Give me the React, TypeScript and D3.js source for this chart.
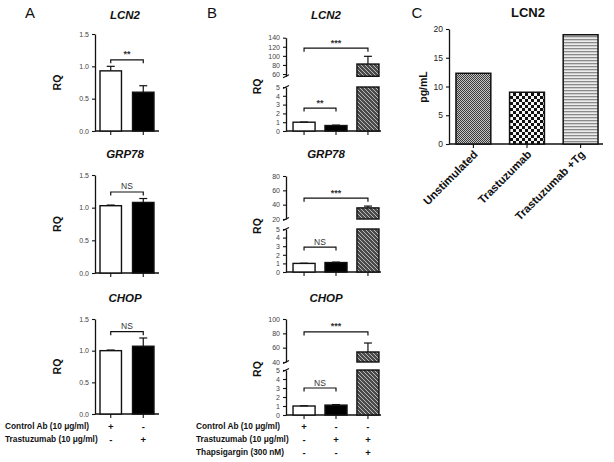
import React, { useEffect, useRef } from 'react'
import * as d3 from 'd3'

// categories
const groupsA = ['Control Ab', 'Trastuzumab']
const groupsB = ['Control Ab', 'Trastuzumab', 'Trastuzumab + Tg']
const groupsC = ['Unstimulated', 'Trastuzumab', 'Trastuzumab +Tg']
const genes = ['LCN2', 'GRP78', 'CHOP']

// panel A: RQ mean and error (SEM) per gene
const rqA = [[0.93, 0.6], [1.03, 1.08], [1.0, 1.07]]
const errA = [[0.07, 0.1], [0.01, 0.06], [0.01, 0.13]]
const sigA = ['**', 'NS', 'NS']
const sigLevelA = [1.1, 1.24, 1.3]
const ticksA = [0, 0.5, 1.0, 1.5]

// panel B: broken axis, lower 0-5 and an upper segment
const rqB = [[1.0, 0.62, 82], [1.0, 1.1, 35.5], [1.0, 1.1, 54]]
const errB = [[0.02, 0.05, 17], [0.02, 0.05, 2.5], [0.02, 0.06, 12.5]]
const lowerTicksB = [0, 1, 2, 3, 4, 5]
const upperDomainB = [[55, 140], [20, 80], [40, 100]]
const upperTicksB = [[60, 80, 100, 120, 140], [20, 40, 60, 80], [40, 60, 80, 100]]
const sigLowB = ['**', 'NS', 'NS']
const sigLowLevelB = [2.6, 2.9, 3.0]
const sigHighLevelB = [117, 49, 82]

// panel C: ELISA
const lcn2C = [12.3, 9.0, 19.0]
const ticksC = [0, 5, 10, 15, 20]

// treatment tables
const tableRowsA = ['Control Ab (10 \u03bcg/ml)', 'Trastuzumab (10 \u03bcg/ml)']
const tableSignsA = [['+', '-'], ['-', '+']]
const tableRowsB = ['Control Ab (10 \u03bcg/ml)', 'Trastuzumab (10 \u03bcg/ml)', 'Thapsigargin (300 nM)']
const tableSignsB = [['+', '-', '-'], ['-', '+', '+'], ['-', '-', '+']]

const FONT = "'Liberation Sans', Arial, sans-serif"
const INK = '#111'

function styleAxis(sel: any, size: number, color = '#444') {
  sel.select('.domain').attr('stroke', INK).attr('stroke-width', 1.3)
  sel.selectAll('.tick line').attr('stroke', INK).attr('stroke-width', 1.1)
  sel.selectAll('.tick text')
    .attr('fill', color)
    .style('font-size', `${size}px`)
    .style('font-family', FONT)
}

function bracket(g: any, x1: number, x2: number, y: number, label: string) {
  g.append('path')
    .attr('d', `M${x1},${y + 3.5}V${y}H${x2}V${y + 3.5}`)
    .attr('fill', 'none')
    .attr('stroke', INK)
    .attr('stroke-width', 1.2)
  g.append('text')
    .attr('x', (x1 + x2) / 2)
    .attr('y', y - 2.5)
    .attr('text-anchor', 'middle')
    .style('font-family', FONT)
    .style('font-size', label === 'NS' ? '8.5px' : '9px')
    .style('font-weight', label === 'NS' ? 'normal' : 'bold')
    .attr('fill', '#333')
    .text(label)
}

function errorBar(g: any, cx: number, y0: number, y1: number) {
  g.append('line').attr('x1', cx).attr('x2', cx).attr('y1', y0).attr('y2', y1)
    .attr('stroke', INK).attr('stroke-width', 1.2)
  g.append('line').attr('x1', cx - 4).attr('x2', cx + 4).attr('y1', y1).attr('y2', y1)
    .attr('stroke', INK).attr('stroke-width', 1.2)
}

function title(g: any, x: number, y: number, t: string, italic = true, size = 11.5) {
  g.append('text')
    .attr('x', x).attr('y', y)
    .attr('text-anchor', 'middle')
    .attr('dominant-baseline', 'middle')
    .style('font-family', FONT)
    .style('font-size', `${size}px`)
    .style('font-weight', 'bold')
    .style('font-style', italic ? 'italic' : 'normal')
    .attr('fill', INK)
    .text(t)
}

function yLabel(g: any, x: number, y: number, t: string) {
  g.append('text')
    .attr('transform', `translate(${x},${y}) rotate(-90)`)
    .attr('text-anchor', 'middle')
    .attr('dominant-baseline', 'middle')
    .style('font-family', FONT)
    .style('font-size', '10.5px')
    .style('font-weight', 'bold')
    .attr('fill', INK)
    .text(t)
}

function xBaseline(g: any, x0: number, x1: number, y: number, centers: number[]) {
  g.append('line').attr('x1', x0).attr('x2', x1).attr('y1', y).attr('y2', y)
    .attr('stroke', INK).attr('stroke-width', 1.3)
  centers.forEach((c) => {
    g.append('line').attr('x1', c).attr('x2', c).attr('y1', y).attr('y2', y + 4)
      .attr('stroke', INK).attr('stroke-width', 1.1)
  })
}

function table(g: any, labelX: number, rows: string[], signs: string[][], centers: number[], ys: number[]) {
  rows.forEach((r, i) => {
    g.append('text')
      .attr('x', labelX).attr('y', ys[i])
      .attr('dominant-baseline', 'middle')
      .style('font-family', FONT).style('font-size', '8.3px').style('font-weight', 'bold')
      .attr('fill', INK)
      .text(r)
    signs[i].forEach((s, j) => {
      g.append('text')
        .attr('x', centers[j]).attr('y', ys[i])
        .attr('text-anchor', 'middle')
        .attr('dominant-baseline', 'middle')
        .style('font-family', FONT).style('font-size', '9.5px').style('font-weight', 'bold')
        .attr('fill', INK)
        .text(s)
    })
  })
}

export default function App() {
  const svgRef = useRef<SVGSVGElement>(null)

  useEffect(() => {
    if (!svgRef.current) return
    document.body.style.margin = '0'
    const svg = d3.select(svgRef.current)
    svg.selectAll('*').remove()

    // patterns
    const defs = svg.append('defs')
    const hatch = defs.append('pattern').attr('id', 'hatch').attr('patternUnits', 'userSpaceOnUse')
      .attr('width', 4).attr('height', 4)
    hatch.append('rect').attr('width', 4).attr('height', 4).attr('fill', '#4a4a4a')
    hatch.append('path').attr('d', 'M-1,-1L5,5M3,-1L5,1M-1,3L1,5').attr('stroke', '#bbb').attr('stroke-width', 1)

    const fine = defs.append('pattern').attr('id', 'fine').attr('patternUnits', 'userSpaceOnUse')
      .attr('width', 2).attr('height', 2)
    fine.append('rect').attr('width', 2).attr('height', 2).attr('fill', '#c4c4c4')
    fine.append('rect').attr('width', 1).attr('height', 1).attr('fill', '#3a3a3a')
    fine.append('rect').attr('x', 1).attr('y', 1).attr('width', 1).attr('height', 1).attr('fill', '#3a3a3a')

    const coarse = defs.append('pattern').attr('id', 'coarse').attr('patternUnits', 'userSpaceOnUse')
      .attr('width', 6).attr('height', 6)
    coarse.append('rect').attr('width', 6).attr('height', 6).attr('fill', '#f4f4f4')
    coarse.append('rect').attr('width', 3).attr('height', 3).attr('fill', '#111')
    coarse.append('rect').attr('x', 3).attr('y', 3).attr('width', 3).attr('height', 3).attr('fill', '#111')

    const stripes = defs.append('pattern').attr('id', 'stripes').attr('patternUnits', 'userSpaceOnUse')
      .attr('width', 4).attr('height', 3)
    stripes.append('rect').attr('width', 4).attr('height', 3).attr('fill', '#ececec')
    stripes.append('rect').attr('width', 4).attr('height', 1.3).attr('fill', '#8a8a8a')

    const g = svg.append('g')

    // panel letters
    ;[['A', 30, 14], ['B', 212, 14], ['C', 417, 14]].forEach(([t, x, y]) => {
      g.append('text').attr('x', x as number).attr('y', y as number)
        .attr('text-anchor', 'middle').attr('dominant-baseline', 'middle')
        .style('font-family', FONT).style('font-size', '15px').attr('fill', INK)
        .text(t as string)
    })

    // ---------- Panel A ----------
    const xA = d3.scaleBand().domain(groupsA).range([95, 159]).paddingInner(0.34).paddingOuter(0.154)
    const centersA = groupsA.map((d) => (xA(d) || 0) + xA.bandwidth() / 2)
    const rowBottomA = [131, 273, 414]
    const rowTopA = [34, 175, 319]
    const titleYA = [16, 155, 299]
    const fillsA = ['#fff', '#000']

    genes.forEach((gene, r) => {
      const y = d3.scaleLinear().domain([0, 1.5]).range([rowBottomA[r], rowTopA[r]])
      const ga = g.append('g')
      ga.append('g').attr('transform', 'translate(95,0)')
        .call(d3.axisLeft(y).tickValues(ticksA).tickFormat(d3.format('.1f')).tickSize(3).tickSizeOuter(0))
        .call((s: any) => styleAxis(s, 7))
      xBaseline(ga, 95, 159, y(0), centersA)
      groupsA.forEach((grp, i) => {
        ga.append('rect')
          .attr('x', xA(grp) || 0).attr('width', xA.bandwidth())
          .attr('y', y(rqA[r][i])).attr('height', y(0) - y(rqA[r][i]))
          .attr('fill', fillsA[i]).attr('stroke', INK).attr('stroke-width', 1.4)
        errorBar(ga, centersA[i], y(rqA[r][i]), y(rqA[r][i] + errA[r][i]))
      })
      bracket(ga, centersA[0], centersA[1], y(sigLevelA[r]), sigA[r])
      title(ga, 125, titleYA[r], gene)
      yLabel(ga, 58, (rowBottomA[r] + rowTopA[r]) / 2, 'RQ')
    })
    table(g, 5, tableRowsA, tableSignsA, centersA, [427, 440])

    // ---------- Panel B ----------
    const xB = d3.scaleBand().domain(groupsB).range([286, 386]).paddingInner(0.31).paddingOuter(0.22)
    const centersB = groupsB.map((d) => (xB(d) || 0) + xB.bandwidth() / 2)
    const lowRange = [[131, 87], [272, 229], [415, 370]]
    const upRange = [[76.3, 37.7], [219, 176], [362, 319]]
    const fillsB = ['#fff', '#000', 'url(#hatch)']

    genes.forEach((gene, r) => {
      const yL = d3.scaleLinear().domain([0, 5]).range(lowRange[r])
      const yU = d3.scaleLinear().domain(upperDomainB[r]).range(upRange[r])
      const gb = g.append('g')
      gb.append('g').attr('transform', 'translate(286,0)')
        .call(d3.axisLeft(yL).tickValues(lowerTicksB).tickFormat(d3.format('d')).tickSize(3).tickSizeOuter(0))
        .call((s: any) => styleAxis(s, 7))
      gb.append('g').attr('transform', 'translate(286,0)')
        .call(d3.axisLeft(yU).tickValues(upperTicksB[r]).tickFormat(d3.format('d')).tickSize(3).tickSizeOuter(0))
        .call((s: any) => styleAxis(s, 7))
      // break marks
      ;[yL(5), yU(upperDomainB[r][0])].forEach((yy) => {
        gb.append('line').attr('x1', 286 - 3).attr('x2', 286 + 3).attr('y1', yy + 1.5).attr('y2', yy - 1.5)
          .attr('stroke', INK).attr('stroke-width', 1.1)
      })
      xBaseline(gb, 286, 381, yL(0), centersB)

      groupsB.forEach((grp, i) => {
        const v = rqB[r][i]
        const x = xB(grp) || 0
        if (v <= 5) {
          gb.append('rect').attr('x', x).attr('width', xB.bandwidth())
            .attr('y', yL(v)).attr('height', yL(0) - yL(v))
            .attr('fill', fillsB[i]).attr('stroke', INK).attr('stroke-width', 1.4)
          errorBar(gb, centersB[i], yL(v), yL(v + errB[r][i]))
        } else {
          gb.append('rect').attr('x', x).attr('width', xB.bandwidth())
            .attr('y', yL(5)).attr('height', yL(0) - yL(5))
            .attr('fill', fillsB[i]).attr('stroke', INK).attr('stroke-width', 1.4)
          const lo = upperDomainB[r][0]
          gb.append('rect').attr('x', x).attr('width', xB.bandwidth())
            .attr('y', yU(v)).attr('height', yU(lo) - yU(v))
            .attr('fill', fillsB[i]).attr('stroke', INK).attr('stroke-width', 1.4)
          errorBar(gb, centersB[i], yU(v), yU(v + errB[r][i]))
        }
      })
      bracket(gb, centersB[0], centersB[1], yL(sigLowLevelB[r]), sigLowB[r])
      bracket(gb, centersB[0], centersB[2], yU(sigHighLevelB[r]), '***')
      title(gb, 326, titleYA[r], gene)
      yLabel(gb, 258, (lowRange[r][0] + upRange[r][1]) / 2 + 2, 'RQ')
    })
    table(g, 196, tableRowsB, tableSignsB, centersB, [427, 440, 453])

    // ---------- Panel C ----------
    const xC = d3.scaleBand().domain(groupsC).range([449, 605]).paddingInner(0.35).paddingOuter(0.13)
    const yC = d3.scaleLinear().domain([0, 20]).range([144, 29])
    const centersC = groupsC.map((d) => (xC(d) || 0) + xC.bandwidth() / 2)
    const fillsC = ['url(#fine)', 'url(#coarse)', 'url(#stripes)']
    const gc = g.append('g')
    gc.append('g').attr('transform', 'translate(449,0)')
      .call(d3.axisLeft(yC).tickValues(ticksC).tickSize(3).tickSizeOuter(0))
      .call((s: any) => styleAxis(s, 8.5, '#222'))
    xBaseline(gc, 449, 603, yC(0), centersC)
    groupsC.forEach((grp, i) => {
      gc.append('rect').attr('x', xC(grp) || 0).attr('width', xC.bandwidth())
        .attr('y', yC(lcn2C[i])).attr('height', yC(0) - yC(lcn2C[i]))
        .attr('fill', fillsC[i]).attr('stroke', INK).attr('stroke-width', 1.5)
      gc.append('text')
        .attr('transform', `translate(${centersC[i] + 3},${yC(0) + 9}) rotate(-45)`)
        .attr('text-anchor', 'end')
        .attr('dominant-baseline', 'middle')
        .style('font-family', FONT).style('font-size', '11.3px').style('font-weight', 'bold')
        .attr('fill', INK)
        .text(grp)
    })
    title(gc, 528, 14, 'LCN2', false, 13)
    yLabel(gc, 424, 87, 'pg/mL')
  }, [])

  return (
    <svg ref={svgRef} width={614} height={462} style={{ display: 'block', background: '#fff' }} />
  )
}
